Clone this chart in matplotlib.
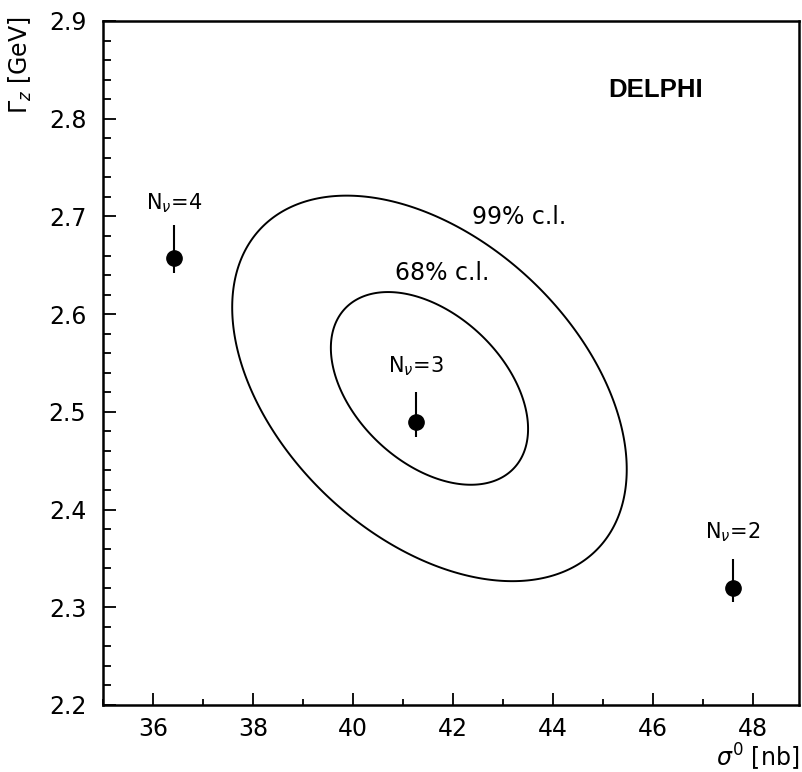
import numpy as np
import matplotlib

matplotlib.use("Agg")
import matplotlib.pyplot as plt
from matplotlib.ticker import MultipleLocator

plt.rcParams["font.family"] = ["DejaVu Sans"]
plt.rcParams["mathtext.fontset"] = "dejavusans"

# Standard model predictions for N_nu light neutrinos
nu_labels = ["4", "3", "2"]
sigma0 = [36.43, 41.26, 47.60]
gamma_z = [2.657, 2.490, 2.320]
err_up = [0.034, 0.030, 0.029]
err_dn = [0.015, 0.016, 0.015]

# fitted contour (centre, widths, correlation)
fit_centre = (41.53, 2.524)
fit_sigma = (1.30, 0.065)
fit_rho = -0.42
cl_labels = ["68% c.l.", "99% c.l."]
cl_scale = [1.517, 3.035]

xticks = [36, 38, 40, 42, 44, 46, 48]
yticks = [2.2, 2.3, 2.4, 2.5, 2.6, 2.7, 2.8, 2.9]

fig = plt.figure(figsize=(8.02, 7.72), dpi=100)
ax = fig.add_axes([0.1284, 0.0868, 0.8678, 0.886])

t = np.linspace(0, 2 * np.pi, 400, endpoint=False)
phi = np.arccos(fit_rho)
for k in cl_scale:
    ex = fit_centre[0] + k * fit_sigma[0] * np.cos(t)
    ey = fit_centre[1] + k * fit_sigma[1] * np.cos(t - phi)
    ax.fill(ex, ey, fill=False, edgecolor="black", lw=1.4)

ax.errorbar(
    sigma0,
    gamma_z,
    yerr=[err_dn, err_up],
    fmt="o",
    color="black",
    ms=11,
    elinewidth=1.5,
    capsize=0,
)

for x, y, n in zip(sigma0, gamma_z, nu_labels):
    ax.annotate(
        f"N$_\\nu$=" + n,
        (x, y),
        xytext=(0, 40),
        textcoords="offset points",
        ha="center",
        va="center",
        fontsize=15,
    )

ax.text(41.79, 2.642, cl_labels[0], ha="center", va="center", fontsize=17)
ax.text(43.32, 2.699, cl_labels[1], ha="center", va="center", fontsize=17)
ax.text(
    46.06,
    2.829,
    "DELPHI",
    ha="center",
    va="center",
    fontsize=18.5,
    fontweight="bold",
    family=["Liberation Sans"],
)

ax.set_xlim(35, 48.92)
ax.set_ylim(2.2, 2.9)
ax.set_xticks(xticks)
ax.set_yticks(yticks)
ax.set_yticklabels([f"{v:.1f}" for v in yticks])
ax.xaxis.set_minor_locator(MultipleLocator(1))
ax.yaxis.set_minor_locator(MultipleLocator(0.02))
ax.tick_params(axis="both", which="both", direction="in", labelsize=17, width=1.3)
ax.tick_params(axis="x", which="major", length=9, pad=9)
ax.tick_params(axis="x", which="minor", length=4)
ax.tick_params(axis="y", which="major", length=9, pad=12)
ax.tick_params(axis="y", which="minor", length=5.5)
for s in ax.spines.values():
    s.set_linewidth(1.8)

ax.text(
    -0.118, 0.935, r"$\Gamma_z$ [GeV]", transform=ax.transAxes,
    rotation=90, ha="center", va="center", fontsize=17,
)
fig.text(799 / 802, 1 - 757 / 772, r"$\sigma^0$ [nb]", ha="right", va="center", fontsize=17)

fig.savefig("out.png", dpi=100)
